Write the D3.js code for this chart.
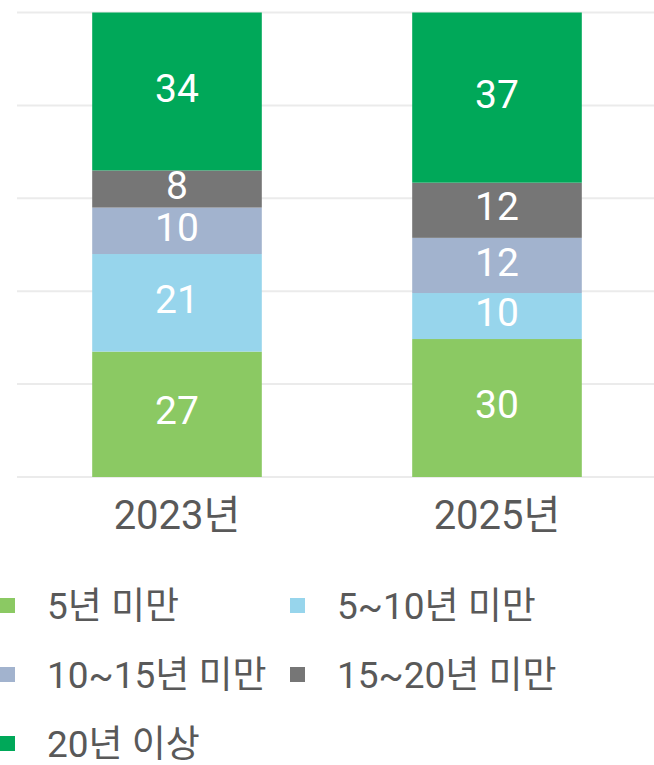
<!DOCTYPE html>
<html>
<head>
<meta charset="utf-8">
<script src="https://cdn.jsdelivr.net/npm/d3@7"></script>
<style>
  body { margin: 0; background: #fff; }
  text { font-family: Roboto, "Noto Sans CJK KR", sans-serif; }
</style>
</head>
<body>
<div id="chart"></div>
<script>
// data
var years = ["2023년", "2025년"];
var groups = ["5년 미만", "5~10년 미만", "10~15년 미만", "15~20년 미만", "20년 이상"];
var lt5 = [27, 30];
var y5to10 = [21, 10];
var y10to15 = [10, 12];
var y15to20 = [8, 12];
var ge20 = [34, 37];
var colors = ["#8BC963", "#97D5EC", "#A2B3CE", "#767676", "#00A859"];
var yTicks = [0, 0.2, 0.4, 0.6, 0.8, 1];

var W = 654, H = 765;

var rows = years.map(function (yr, i) {
    return {
        year: yr,
        "5년 미만": lt5[i],
        "5~10년 미만": y5to10[i],
        "10~15년 미만": y10to15[i],
        "15~20년 미만": y15to20[i],
        "20년 이상": ge20[i]
    };
});

var svg = d3.select("#chart")
    .append("svg")
    .attr("width", W)
    .attr("height", H);

var x = d3.scaleBand()
    .domain(years)
    .range([17, 657])
    .paddingInner(0.47)
    .paddingOuter(0.235);

var y = d3.scaleLinear()
    .domain([0, 1])
    .range([477, 12.5]);

var color = d3.scaleOrdinal().domain(groups).range(colors);

// gridlines
svg.append("g")
    .selectAll("line")
    .data(yTicks)
    .enter()
    .append("line")
    .attr("x1", 17)
    .attr("x2", W)
    .attr("y1", function (d) { return y(d); })
    .attr("y2", function (d) { return y(d); })
    .attr("stroke", "#EBEBEB")
    .attr("stroke-width", 2);

// stacked bars (100%)
var series = d3.stack()
    .keys(groups)
    .offset(d3.stackOffsetExpand)(rows);

var layer = svg.append("g")
    .selectAll("g")
    .data(series)
    .enter()
    .append("g")
    .attr("fill", function (d) { return color(d.key); });

layer.selectAll("rect")
    .data(function (d) { return d; })
    .enter()
    .append("rect")
    .attr("x", function (d) { return x(d.data.year); })
    .attr("y", function (d) { return y(d[1]); })
    .attr("width", x.bandwidth())
    .attr("height", function (d) { return y(d[0]) - y(d[1]); });

layer.selectAll("text")
    .data(function (d) { return d.map(function (p) { p.key = d.key; return p; }); })
    .enter()
    .append("text")
    .attr("x", function (d) { return x(d.data.year) + x.bandwidth() / 2; })
    .attr("y", function (d) { return (y(d[0]) + y(d[1])) / 2; })
    .attr("dy", "0.26em")
    .attr("text-anchor", "middle")
    .attr("fill", "#fff")
    .attr("font-size", 39)
    .text(function (d) { return d.data[d.key]; });

// x axis labels
var xAxis = svg.append("g")
    .attr("transform", "translate(0,477)")
    .call(d3.axisBottom(x).tickSize(0).tickPadding(24));
xAxis.select(".domain").remove();
xAxis.selectAll("text")
    .attr("font-size", 40)
    .attr("fill", "#595959")
    .style("font-family", "Roboto, 'Noto Sans CJK KR', sans-serif");

// legend
var legend = svg.append("g")
    .selectAll("g")
    .data(groups)
    .enter()
    .append("g")
    .attr("transform", function (d, i) {
        return "translate(" + (i % 2 === 0 ? 0 : 290) + "," + (606 + Math.floor(i / 2) * 69) + ")";
    });

legend.append("rect")
    .attr("x", 0)
    .attr("y", -8)
    .attr("width", 15)
    .attr("height", 15)
    .attr("fill", function (d) { return color(d); });

legend.append("text")
    .attr("x", 47)
    .attr("dy", "0.35em")
    .attr("font-size", 37)
    .attr("fill", "#595959")
    .text(function (d) { return d; });
</script>
</body>
</html>
